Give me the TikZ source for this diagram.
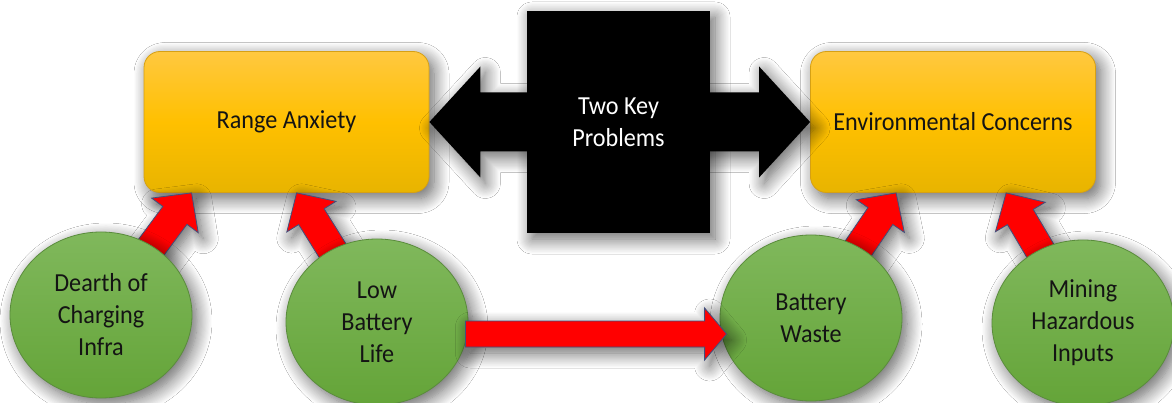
\documentclass[tikz,border=0pt]{standalone}
\usepackage{fontspec}
\setmainfont{Carlito}[FakeStretch=0.93]
\usetikzlibrary{calc,shapes.geometric,shadows.blur}

\definecolor{boxtop}{RGB}{255,200,64}
\definecolor{boxmid}{RGB}{255,192,0}
\definecolor{boxbot}{RGB}{232,180,0}
\definecolor{boxedge}{RGB}{214,160,20}
\definecolor{ctop}{RGB}{128,184,92}
\definecolor{cbot}{RGB}{100,164,56}
\definecolor{circedge}{RGB}{90,140,60}
\definecolor{arrowedge}{RGB}{65,80,125}
\definecolor{txtcol}{RGB}{20,20,20}

\newcommand\fatarrow[6]{% style, from, to, half shaft, half head, head length
  \coordinate (fa-s) at (#2);
  \coordinate (fa-e) at (#3);
  \coordinate (fa-h) at ($(fa-e)!#6!(fa-s)$);
  \path[#1] ($(fa-s)!#4!90:(fa-e)$) -- ($(fa-h)!#4!90:(fa-e)$) -- ($(fa-h)!#5!90:(fa-e)$) -- (fa-e) -- ($(fa-h)!#5!-90:(fa-e)$) -- ($(fa-h)!#4!-90:(fa-e)$) -- ($(fa-s)!#4!-90:(fa-e)$) -- cycle;}

\begin{document}
\begin{tikzpicture}[x=1pt,y=-1pt,
  sh/.style={blur shadow={shadow xshift=5pt, shadow yshift=-6pt, shadow blur radius=15pt, shadow blur steps=14, shadow opacity=62}},
  txt/.style={font=\fontsize{26}{32}\selectfont, text=txtcol, align=center},
  probbox/.style={txt, rectangle, rounded corners=16pt, minimum width=285pt, minimum height=141pt, inner sep=0pt, draw=boxedge, line width=0.8pt, top color=boxtop, bottom color=boxbot, middle color=boxmid, sh},
  cause/.style={txt, ellipse, minimum width=182pt, minimum height=166pt, inner sep=0pt, draw=circedge, line width=0.8pt, top color=ctop, bottom color=cbot, sh},
  keybox/.style={txt, rectangle, fill=black, text=white, minimum width=183pt, minimum height=222pt, inner sep=0pt, sh},
  redarrow/.style={fill=red, draw=arrowedge, line width=0.8pt, line join=miter, sh},
  blackarrow/.style={fill=black, sh}]
\useasboundingbox (0,0) rectangle (1172,403);
\clip (0,0) rectangle (1172,403);
\fill[white] (0,0) rectangle (1172,403);

% centre block and main boxes
\coordinate (kc) at (618.5,122);
\node[probbox] (ra) at (286.5,122) {Range Anxiety};
\node[probbox] (ec) at (953,122) {Environmental Concerns};
\fatarrow{blackarrow}{kc}{ra.east}{29.5pt}{55.5pt}{51pt}
\fatarrow{blackarrow}{kc}{ec.west}{29.5pt}{55.5pt}{51pt}
\node[keybox] (kp) at (kc) {Two Key\\Problems};

% cause circles positions
\coordinate (c1) at (101,315);
\coordinate (c2) at (377,322);
\coordinate (c3) at (811,318);
\coordinate (c4) at (1083,323);

% arrow tips on box bottoms
\coordinate (t1) at ($(ra.south west)+(48,0)$);
\coordinate (t2) at ($(ra.south west)+(153,0)$);
\coordinate (t3) at ($(ec.south west)+(86,0)$);
\coordinate (t4) at ($(ec.south west)+(196,0)$);

\fatarrow{redarrow}{c1}{t1}{15pt}{29pt}{28pt}
\fatarrow{redarrow}{c2}{t2}{15pt}{29pt}{28pt}
\fatarrow{redarrow}{c3}{t3}{15pt}{29pt}{28pt}
\fatarrow{redarrow}{c4}{t4}{15pt}{29pt}{28pt}

\node[cause] (dc) at (c1) {Dearth of\\Charging\\Infra};
\node[cause] (lb) at (c2) {Low\\Battery\\Life};
\node[cause] (bw) at (c3) {Battery\\Waste};
\node[cause] (mh) at (c4) {Mining\\Hazardous\\Inputs};

% horizontal arrow
\coordinate (hT) at ($(bw.west)+(7,16)$);
\coordinate (hS) at ($(lb.east |- hT)+(-3,0)$);
\fatarrow{redarrow}{hS}{hT}{13pt}{26pt}{22pt}
\end{tikzpicture}
\end{document}
